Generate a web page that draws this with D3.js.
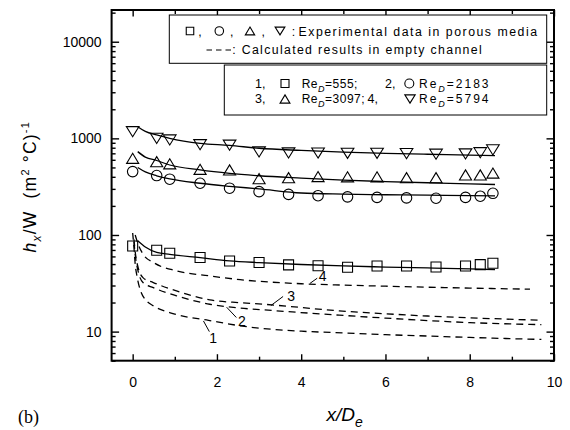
<!DOCTYPE html>
<html><head><meta charset="utf-8">
<script src="https://cdn.jsdelivr.net/npm/d3@7"></script>
<style>
body{margin:0;background:#fff}
svg{display:block}
text{font-family:"Liberation Sans",Arial,sans-serif;fill:#000}
</style>
</head><body>
<svg id="c" width="570" height="430"></svg>
<script>
// ---------- data ----------
const xMeas = [0,0.57,0.88,1.6,2.3,3.0,3.7,4.4,5.1,5.8,6.5,7.2,7.9,8.25,8.55];
const meas555  = [77,69.5,64.8,58.4,53.8,52,49,48,46.3,47.8,47.8,46.7,47.8,49.3,51];
const meas2183 = [453,412,378,343,305,281,263,255,248,245,242,240,245,252,270];
const meas3097 = [621,574,545,478,471,383,392,402,400,400,392,392,418,418,437];
const meas5794 = [1173,1000,962,860,850,723,706,705,700,700,695,685,690,710,760];

const xFit = [0.12,0.3,0.57,0.88,1.6,2.3,3,4,5,6,7,8,8.6];
const fit555  = [87,75,66,63,58.3,54,51.8,49.5,47.8,46.6,45.6,44.6,43.8];
const fit2183 = [500,450,410,380,343,319,300,272,265,261,258,255,254];
const fit3097 = [729,640,590,530,471,434,410,388,370,357,347,338,333];
const fit5794 = [1320,1180,1084,1000,888,845,790,750,720,700,685,670,662];

const xEmpty1 = [0,0.03,0.06,0.1,0.2,0.3,0.5,1.0,1.8,2.6,4,5,6,7,8,9,9.7];
const empty555 = [105,75,50,38,25.5,21.5,18.4,15.2,13.1,11.4,10.1,9.7,9.3,9.0,8.7,8.45,8.3];
const xEmpty23 = [0.03,0.07,0.13,0.25,0.49,1.04,1.83,2.55,3.1,4.9,6,7,8,9.7];
const empty2183 = [85,58,42,32,28.5,23.5,19.2,17.5,16.8,14.8,13.8,13.0,12.4,11.8];
const empty3097 = [90,62,46,36,32.2,26.4,21.3,19.9,19.2,16.4,15.3,14.5,13.9,13.1];
const xEmpty4 = [0.06,0.13,0.25,0.5,1.04,1.83,2.55,4,5,6,7,8,9.43];
const empty5794 = [100,80,63,51.7,42.5,37.7,34.5,31.3,30.3,29.5,28.8,28.2,27.5];

const curveLabels = ["1","2","3","4"];
const labelX = [1.91,2.59,3.76,4.51];
const labelY = [8.54,12.9,23.4,37.7];
const leaderX0 = [1.68,2.23,3.28,4.21], leaderY0 = [12.9,17.9,18.6,31.6];
const leaderX1 = [1.82,2.46,3.57,4.38], leaderY1 = [10.0,14.0,23.1,35.7];

const xTicks = [0,2,4,6,8,10];
const xTickLabels = ["0","2","4","6","8","10"];
const xMinor = [1,3,5,7,9];
const yTicks = [10,100,1000,10000];
const yTickLabels = ["10","100","1000","10000"];

// ---------- scales ----------
const svg = d3.select("#c");
const L = 111.6, R = 554, T = 10, B = 360.7;
const x = d3.scaleLinear().domain([-0.5,10]).range([L,R]);
const y = d3.scaleLog().domain([5,21300]).range([B,T]);

const yMinor = [];
[1,10,100,1000,10000].forEach(d=>{for(let m=2;m<=9;m++){const v=m*d; if(v>=5 && v<=21300) yMinor.push(v);}});

// axes
const fs = 14;
function styleAxis(g){ g.select(".domain").remove(); g.selectAll("line").attr("stroke","#000").attr("stroke-width",1.4); g.selectAll("text").attr("font-size",fs).attr("font-family",'"Liberation Sans",Arial,sans-serif'); }
svg.append("g").attr("transform",`translate(0,${B})`)
  .call(d3.axisBottom(x).tickValues(xTicks).tickFormat((d,i)=>xTickLabels[i]).tickSize(-6.5).tickPadding(16)).call(styleAxis);
svg.append("g").attr("transform",`translate(0,${B})`)
  .call(d3.axisBottom(x).tickValues(xMinor).tickFormat("").tickSize(-4)).call(styleAxis);
svg.append("g").attr("transform",`translate(0,${T})`)
  .call(d3.axisTop(x).tickValues(xTicks).tickFormat("").tickSize(-6.5)).call(styleAxis);
svg.append("g").attr("transform",`translate(0,${T})`)
  .call(d3.axisTop(x).tickValues(xMinor).tickFormat("").tickSize(-4)).call(styleAxis);
svg.append("g").attr("transform",`translate(${L},0)`)
  .call(d3.axisLeft(y).tickValues(yTicks).tickFormat((d,i)=>yTickLabels[i]).tickSize(-7.5).tickPadding(10)).call(styleAxis);
svg.append("g").attr("transform",`translate(${L},0)`)
  .call(d3.axisLeft(y).tickValues(yMinor).tickFormat("").tickSize(-4)).call(styleAxis);
svg.append("g").attr("transform",`translate(${R},0)`)
  .call(d3.axisRight(y).tickValues(yTicks).tickFormat("").tickSize(-7.5)).call(styleAxis);
svg.append("g").attr("transform",`translate(${R},0)`)
  .call(d3.axisRight(y).tickValues(yMinor).tickFormat("").tickSize(-4)).call(styleAxis);

svg.append("rect").attr("x",L).attr("y",T).attr("width",R-L).attr("height",B-T)
  .attr("fill","none").attr("stroke","#000").attr("stroke-width",2);

// ---------- lines ----------
const line = d3.line().x(d=>x(d[0])).y(d=>y(d[1])).curve(d3.curveMonotoneX);
const zip = (a,b)=>a.map((v,i)=>[v,b[i]]);
[fit555,fit2183,fit3097,fit5794].forEach(f=>{
  svg.append("path").attr("d",line(zip(xFit,f))).attr("fill","none").attr("stroke","#000").attr("stroke-width",1.3);
});
[[xEmpty1,empty555],[xEmpty23,empty2183],[xEmpty23,empty3097],[xEmpty4,empty5794]].forEach(([xs,vs])=>{
  svg.append("path").attr("d",line(zip(xs,vs))).attr("fill","none").attr("stroke","#000")
    .attr("stroke-width",1.3).attr("stroke-dasharray","7,5");
});

// ---------- markers ----------
function shape(type, s){
  const h=s/2;
  if(type==="sq") return `M${-h},${-h}H${h}V${h}H${-h}Z`;
  if(type==="up") return `M0,${-h*0.92}L${h*1.1},${h*0.92}L${-h*1.1},${h*0.92}Z`;
  if(type==="dn") return `M0,${h*0.92}L${h*1.15},${-h*0.92}L${-h*1.15},${-h*0.92}Z`;
  return null;
}
function marker(g,type,cx,cy,s){
  if(type==="ci") return g.append("circle").attr("cx",cx).attr("cy",cy).attr("r",s/2)
    .attr("fill","none").attr("stroke","#000").attr("stroke-width",1.1);
  return g.append("path").attr("d",shape(type,s)).attr("transform",`translate(${cx},${cy})`)
    .attr("fill","none").attr("stroke","#000").attr("stroke-width",1.1);
}
const mg = svg.append("g");
[[meas555,"sq",10],[meas2183,"ci",10.5],[meas3097,"up",11],[meas5794,"dn",11]].forEach(([vals,t,s])=>{
  vals.forEach((v,i)=>marker(mg,t,x(xMeas[i]),y(v),s));
});

// curve labels
curveLabels.forEach((t,i)=>{
  svg.append("line").attr("x1",x(leaderX0[i])).attr("y1",y(leaderY0[i]))
    .attr("x2",x(leaderX1[i])).attr("y2",y(leaderY1[i])).attr("stroke","#000").attr("stroke-width",1);
  svg.append("text").attr("x",x(labelX[i])).attr("y",y(labelY[i])).attr("dy","0.36em")
    .attr("text-anchor","middle").attr("font-size",14).text(t);
});

// ---------- legend ----------
const lg = svg.append("g");
lg.append("rect").attr("x",169.3).attr("y",15).attr("width",377.4).attr("height",48.3)
  .attr("fill","#fff").attr("stroke","#000").attr("stroke-width",1);
lg.append("rect").attr("x",224.3).attr("y",65).attr("width",322.4).attr("height",50)
  .attr("fill","#fff").attr("stroke","#000").attr("stroke-width",1);
const lfs = 12.3;
function lt(t,xx,yy,opts={}){
  const e = lg.append("text").attr("x",xx).attr("y",yy).attr("font-size",opts.fs||lfs).text(t);
  if(opts.len) e.attr("textLength",opts.len).attr("lengthAdjust","spacing");
  if(opts.anchor) e.attr("text-anchor",opts.anchor);
  return e;
}
// row 1 box 1
marker(lg,"sq",190,31,7.5);
lt(",",200,35.5,{anchor:"middle"});
marker(lg,"ci",219.3,31,8.5);
lt(",",231.7,35.5,{anchor:"middle"});
marker(lg,"up",250,31,8.5);
lt(",",263.3,35.5,{anchor:"middle"});
marker(lg,"dn",280,31,8.5);
lt(":",293.5,35.5,{anchor:"middle"});
lt("Experimental data in porous media",298.5,35.5,{len:238.5});
// row 2 box 1
lg.append("line").attr("x1",206.5).attr("x2",231).attr("y1",50).attr("y2",50)
  .attr("stroke","#000").attr("stroke-width",1.2).attr("stroke-dasharray","5.5,4");
lt(":",234,54,{anchor:"middle"});
lt("Calculated results in empty channel",241.7,54,{len:240});
// box 2
function reText(xx,yy,val,ls){
  const e = lg.append("text").attr("x",xx).attr("y",yy).attr("font-size",12).attr("letter-spacing",ls+"px");
  e.append("tspan").text("Re");
  e.append("tspan").attr("font-style","italic").attr("font-size",9).attr("dy",4).text("D");
  e.append("tspan").attr("dy",-4).text(val);
}
lt("1,",255,87.5,{fs:12.5}); marker(lg,"sq",285,83.5,8); reText(301.7,87.5,"=555;",0.5);
lt("2,",385,87.5,{fs:12.5}); marker(lg,"ci",409.3,83.5,9); reText(419,87.5,"=2183",2.0);
lt("3,",255,103,{fs:12.5}); marker(lg,"up",285,99,9); reText(301.7,103,"=3097;",0.5);
lt("4,",367.5,103,{fs:12.5}); marker(lg,"dn",410,99,9); reText(419,103,"=5794",2.0);

// ---------- axis titles ----------
const yl = svg.append("text").attr("transform","translate(35.5,186.7) rotate(-90)")
  .attr("text-anchor","middle").attr("font-size",17.5).attr("letter-spacing","1.2px");
yl.append("tspan").attr("font-style","italic").text("h");
yl.append("tspan").attr("font-style","italic").attr("font-size",12).attr("dy",5).text("x");
yl.append("tspan").attr("dy",-5).text("/W\u00A0\u00A0(m");
yl.append("tspan").attr("font-size",11).attr("dy",-7).text("2");
yl.append("tspan").attr("dy",7).text("\u00A0\u00B0C)");
yl.append("tspan").attr("font-size",11).attr("dy",-7).text("-1");

const xl = svg.append("text").attr("x",326.5).attr("y",421).attr("font-size",19).attr("font-style","italic");
xl.append("tspan").text("x/D");
xl.append("tspan").attr("font-size",14).attr("dy",6).text("e");

svg.append("text").attr("x",18).attr("y",423).attr("font-size",18)
  .style("font-family",'"Liberation Serif","Times New Roman",serif').text("(b)");
</script>
</body></html>
